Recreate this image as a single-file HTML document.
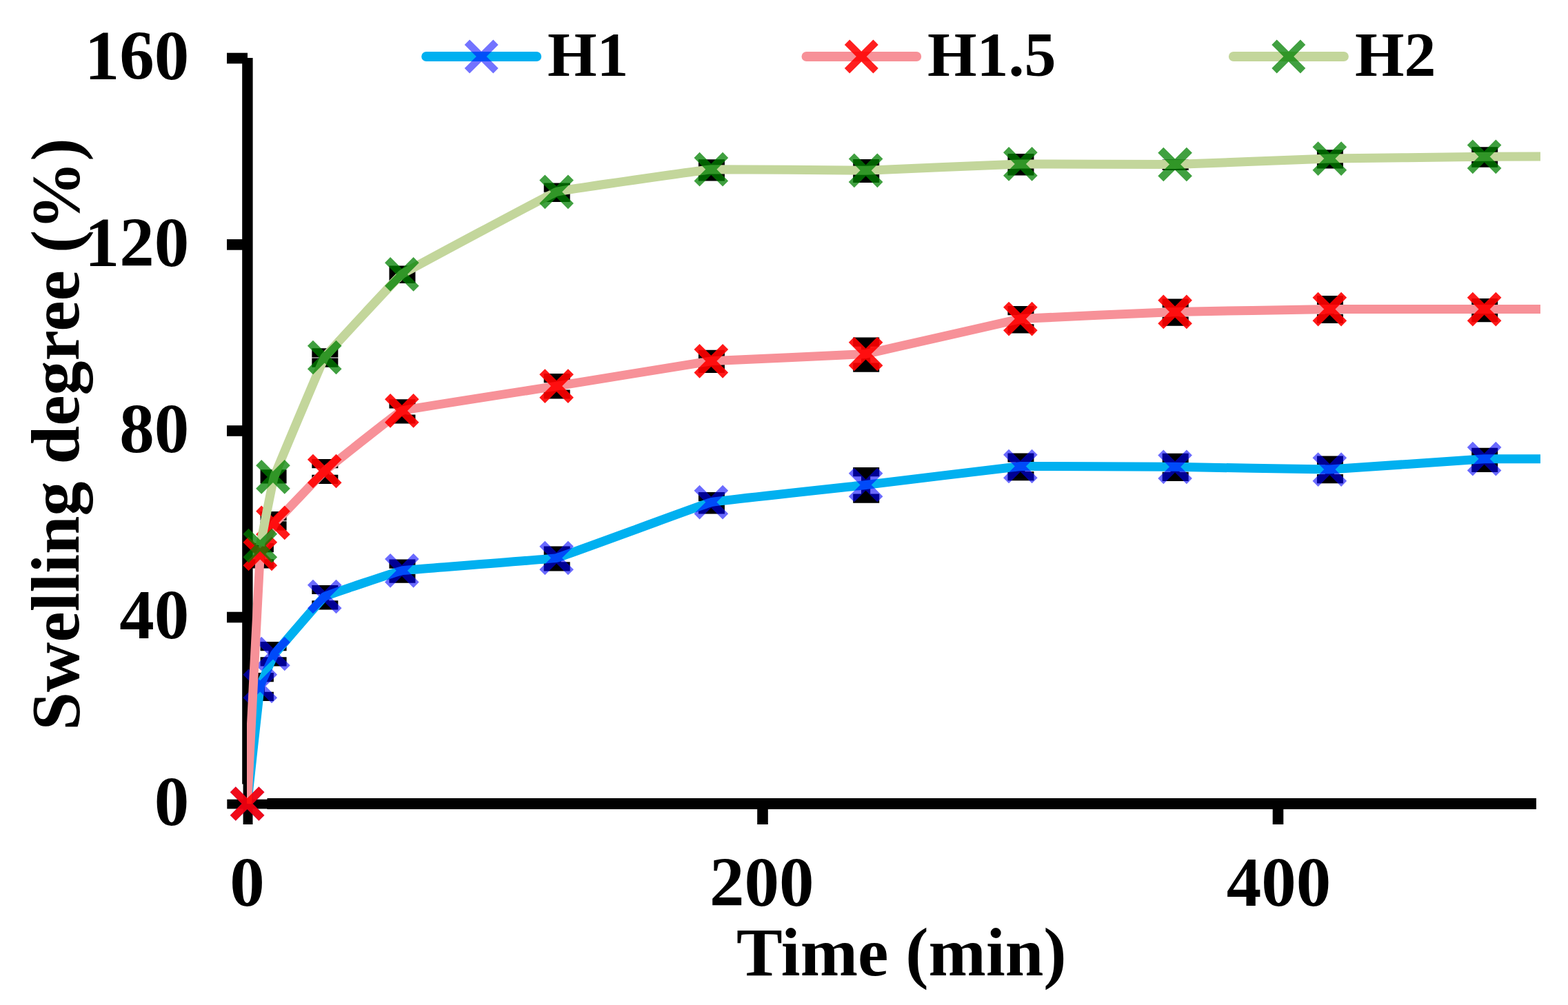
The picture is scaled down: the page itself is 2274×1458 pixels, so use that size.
<!DOCTYPE html>
<html lang="en">
<head>
<meta charset="utf-8">
<title>Swelling degree (%) vs Time (min)</title>
<style>
html,body{margin:0;padding:0;background:#fff;}
body{width:2274px;height:1458px;overflow:hidden;}
svg{display:block;}
text{font-family:"Liberation Serif","Times New Roman",serif;font-weight:bold;fill:#000;}
</style>
</head>
<body>
<svg width="2274" height="1458" viewBox="0 0 2274 1458">
<defs><clipPath id="plotclip"><rect x="358" y="0" width="1876.00" height="1300"/></clipPath></defs>
<rect width="2274" height="1458" fill="#fff"/>

<g id="axes" fill="#000">
<rect x="351.2" y="84" width="15.4" height="1053.5"/>
<rect x="352.6" y="1137" width="13.9" height="59"/>
<rect x="387.5" y="1158" width="1840.5" height="16"/>
<rect x="329.3" y="1159.7" width="58.7" height="13.7"/>
<rect x="329" y="76.70" width="30" height="15.6"/>
<rect x="329" y="347.10" width="30" height="15.6"/>
<rect x="329" y="617.20" width="30" height="15.6"/>
<rect x="329" y="887.70" width="30" height="15.6"/>
<rect x="1098.20" y="1166" width="15.6" height="30"/>
<rect x="1845.70" y="1166" width="15.6" height="30"/>
</g>
<g id="s-blue">
<path d="M370.69,976.00 h13.20 v41.00 h-13.20 z M358.89,976.00 h38.00 v13.20 h-38.00 z M358.89,1003.80 h38.00 v13.20 h-38.00 z M389.38,931.10 h13.20 v35.40 h-13.20 z M377.58,931.10 h38.00 v13.20 h-38.00 z M377.58,953.30 h38.00 v13.20 h-38.00 z M464.12,848.90 h13.20 v35.50 h-13.20 z M452.33,848.90 h38.00 v13.20 h-38.00 z M452.33,871.20 h38.00 v13.20 h-38.00 z M576.25,811.50 h13.20 v34.30 h-13.20 z M564.45,811.50 h38.00 v13.20 h-38.00 z M564.45,832.60 h38.00 v13.20 h-38.00 z M800.50,792.40 h13.20 v36.00 h-13.20 z M788.70,792.40 h38.00 v13.20 h-38.00 z M788.70,815.20 h38.00 v13.20 h-38.00 z M1024.75,714.00 h13.20 v31.50 h-13.20 z M1012.95,714.00 h38.00 v13.20 h-38.00 z M1012.95,732.30 h38.00 v13.20 h-38.00 z M1249.00,678.00 h13.20 v51.70 h-13.20 z M1237.20,678.00 h38.00 v13.20 h-38.00 z M1237.20,716.50 h38.00 v13.20 h-38.00 z M1473.25,657.40 h13.20 v39.80 h-13.20 z M1461.45,657.40 h38.00 v13.20 h-38.00 z M1461.45,684.00 h38.00 v13.20 h-38.00 z M1697.50,657.80 h13.20 v40.20 h-13.20 z M1685.70,657.80 h38.00 v13.20 h-38.00 z M1685.70,684.80 h38.00 v13.20 h-38.00 z M1921.75,661.40 h13.20 v39.80 h-13.20 z M1909.95,661.40 h38.00 v13.20 h-38.00 z M1909.95,688.00 h38.00 v13.20 h-38.00 z M2146.00,649.80 h13.20 v35.10 h-13.20 z M2134.20,649.80 h38.00 v13.20 h-38.00 z M2134.20,671.70 h38.00 v13.20 h-38.00 z" fill="#000"/>
<path d="M358.60,1166.00 C359.22,1160.31 376.62,999.02 377.29,995.40 C377.75,992.87 396.97,950.59 398.48,948.50 C400.03,946.34 467.65,867.51 470.73,865.50 C473.80,863.49 577.24,828.73 582.85,827.80 C588.46,826.87 799.62,811.15 807.10,809.50 C814.58,807.85 1023.87,730.37 1031.35,728.60 C1038.82,726.83 1248.12,704.37 1255.60,703.50 C1263.07,702.63 1472.38,676.94 1479.85,676.50 C1487.32,676.06 1696.62,677.22 1704.10,677.30 C1711.57,677.38 1920.88,681.29 1928.35,681.10 C1935.82,680.91 2145.12,665.95 2152.60,665.70 C2160.07,665.45 2369.38,666.18 2376.85,666.20" fill="none" stroke="#00B0F0" stroke-width="13.00" stroke-linejoin="round" clip-path="url(#plotclip)"/>
<path d="M337.80,1145.20 L379.40,1186.80 M337.80,1186.80 L379.40,1145.20" fill="none" stroke="#0000FF" stroke-opacity="0.58" stroke-width="11.40"/>
<path d="M356.49,974.60 L398.09,1016.20 M356.49,1016.20 L398.09,974.60" fill="none" stroke="#0000FF" stroke-opacity="0.58" stroke-width="11.40"/>
<path d="M375.18,927.70 L416.78,969.30 M375.18,969.30 L416.78,927.70" fill="none" stroke="#0000FF" stroke-opacity="0.58" stroke-width="11.40"/>
<path d="M449.93,844.70 L491.53,886.30 M449.93,886.30 L491.53,844.70" fill="none" stroke="#0000FF" stroke-opacity="0.58" stroke-width="11.40"/>
<path d="M562.05,807.00 L603.65,848.60 M562.05,848.60 L603.65,807.00" fill="none" stroke="#0000FF" stroke-opacity="0.58" stroke-width="11.40"/>
<path d="M786.30,788.70 L827.90,830.30 M786.30,830.30 L827.90,788.70" fill="none" stroke="#0000FF" stroke-opacity="0.58" stroke-width="11.40"/>
<path d="M1010.55,707.80 L1052.15,749.40 M1010.55,749.40 L1052.15,707.80" fill="none" stroke="#0000FF" stroke-opacity="0.58" stroke-width="11.40"/>
<path d="M1234.80,682.70 L1276.40,724.30 M1234.80,724.30 L1276.40,682.70" fill="none" stroke="#0000FF" stroke-opacity="0.58" stroke-width="11.40"/>
<path d="M1459.05,655.70 L1500.65,697.30 M1459.05,697.30 L1500.65,655.70" fill="none" stroke="#0000FF" stroke-opacity="0.58" stroke-width="11.40"/>
<path d="M1683.30,656.50 L1724.90,698.10 M1683.30,698.10 L1724.90,656.50" fill="none" stroke="#0000FF" stroke-opacity="0.58" stroke-width="11.40"/>
<path d="M1907.55,660.30 L1949.15,701.90 M1907.55,701.90 L1949.15,660.30" fill="none" stroke="#0000FF" stroke-opacity="0.58" stroke-width="11.40"/>
<path d="M2131.80,644.90 L2173.40,686.50 M2131.80,686.50 L2173.40,644.90" fill="none" stroke="#0000FF" stroke-opacity="0.58" stroke-width="11.40"/>
</g>
<g id="s-red">
<path d="M370.69,788.00 h13.20 v36.50 h-13.20 z M358.89,788.00 h38.00 v13.20 h-38.00 z M358.89,811.30 h38.00 v13.20 h-38.00 z M389.38,742.00 h13.20 v27.50 h-13.20 z M377.58,742.00 h38.00 v13.20 h-38.00 z M377.58,756.30 h38.00 v13.20 h-38.00 z M464.12,666.00 h13.20 v36.00 h-13.20 z M452.33,666.00 h38.00 v13.20 h-38.00 z M452.33,688.80 h38.00 v13.20 h-38.00 z M576.25,579.20 h13.20 v35.40 h-13.20 z M564.45,579.20 h38.00 v13.20 h-38.00 z M564.45,601.40 h38.00 v13.20 h-38.00 z M800.50,542.10 h13.20 v36.50 h-13.20 z M788.70,542.10 h38.00 v13.20 h-38.00 z M788.70,565.40 h38.00 v13.20 h-38.00 z M1024.75,507.80 h13.20 v33.10 h-13.20 z M1012.95,507.80 h38.00 v13.20 h-38.00 z M1012.95,527.70 h38.00 v13.20 h-38.00 z M1249.00,489.50 h13.20 v50.20 h-13.20 z M1237.20,489.50 h38.00 v13.20 h-38.00 z M1237.20,526.50 h38.00 v13.20 h-38.00 z M1473.25,444.00 h13.20 v39.50 h-13.20 z M1461.45,444.00 h38.00 v13.20 h-38.00 z M1461.45,470.30 h38.00 v13.20 h-38.00 z M1697.50,433.40 h13.20 v39.30 h-13.20 z M1685.70,433.40 h38.00 v13.20 h-38.00 z M1685.70,459.50 h38.00 v13.20 h-38.00 z M1921.75,429.10 h13.20 v39.80 h-13.20 z M1909.95,429.10 h38.00 v13.20 h-38.00 z M1909.95,455.70 h38.00 v13.20 h-38.00 z M2146.00,432.90 h13.20 v34.30 h-13.20 z M2134.20,432.90 h38.00 v13.20 h-38.00 z M2134.20,454.00 h38.00 v13.20 h-38.00 z" fill="#000"/>
<path d="M358.60,1166.00 C359.22,1153.92 376.61,810.29 377.29,803.50 C377.53,801.01 397.44,760.37 398.98,758.40 C400.53,756.40 467.66,686.21 470.73,683.50 C473.79,680.79 577.24,597.96 582.85,595.90 C588.46,593.84 799.62,561.30 807.10,560.10 C814.58,558.90 1023.87,524.58 1031.35,523.80 C1038.82,523.02 1248.12,514.52 1255.60,513.50 C1263.07,512.48 1472.38,463.62 1479.85,462.60 C1487.32,461.58 1696.62,452.63 1704.10,452.40 C1711.57,452.17 1920.88,448.66 1928.35,448.60 C1935.82,448.54 2145.12,448.61 2152.60,448.60 C2160.07,448.60 2369.38,448.31 2376.85,448.30" fill="none" stroke="#F79198" stroke-width="13.00" stroke-linejoin="round" clip-path="url(#plotclip)"/>
<path d="M337.80,1145.20 L379.40,1186.80 M337.80,1186.80 L379.40,1145.20" fill="none" stroke="#FF0000" stroke-opacity="0.9" stroke-width="11.40"/>
<path d="M356.49,782.70 L398.09,824.30 M356.49,824.30 L398.09,782.70" fill="none" stroke="#FF0000" stroke-opacity="0.9" stroke-width="11.40"/>
<path d="M375.18,737.60 L416.78,779.20 M375.18,779.20 L416.78,737.60" fill="none" stroke="#FF0000" stroke-opacity="0.9" stroke-width="11.40"/>
<path d="M449.93,662.70 L491.53,704.30 M449.93,704.30 L491.53,662.70" fill="none" stroke="#FF0000" stroke-opacity="0.9" stroke-width="11.40"/>
<path d="M562.05,575.10 L603.65,616.70 M562.05,616.70 L603.65,575.10" fill="none" stroke="#FF0000" stroke-opacity="0.9" stroke-width="11.40"/>
<path d="M786.30,539.30 L827.90,580.90 M786.30,580.90 L827.90,539.30" fill="none" stroke="#FF0000" stroke-opacity="0.9" stroke-width="11.40"/>
<path d="M1010.55,503.00 L1052.15,544.60 M1010.55,544.60 L1052.15,503.00" fill="none" stroke="#FF0000" stroke-opacity="0.9" stroke-width="11.40"/>
<path d="M1234.80,492.70 L1276.40,534.30 M1234.80,534.30 L1276.40,492.70" fill="none" stroke="#FF0000" stroke-opacity="0.9" stroke-width="11.40"/>
<path d="M1459.05,441.80 L1500.65,483.40 M1459.05,483.40 L1500.65,441.80" fill="none" stroke="#FF0000" stroke-opacity="0.9" stroke-width="11.40"/>
<path d="M1683.30,431.60 L1724.90,473.20 M1683.30,473.20 L1724.90,431.60" fill="none" stroke="#FF0000" stroke-opacity="0.9" stroke-width="11.40"/>
<path d="M1907.55,427.80 L1949.15,469.40 M1907.55,469.40 L1949.15,427.80" fill="none" stroke="#FF0000" stroke-opacity="0.9" stroke-width="11.40"/>
<path d="M2131.80,427.80 L2173.40,469.40 M2131.80,469.40 L2173.40,427.80" fill="none" stroke="#FF0000" stroke-opacity="0.9" stroke-width="11.40"/>
</g>
<g id="s-green">
<path d="M389.38,681.30 h13.20 v20.30 h-13.20 z M377.58,681.30 h38.00 v13.20 h-38.00 z M377.58,688.40 h38.00 v13.20 h-38.00 z M464.12,505.30 h13.20 v27.50 h-13.20 z M452.33,505.30 h38.00 v13.20 h-38.00 z M452.33,519.60 h38.00 v13.20 h-38.00 z M576.25,385.60 h13.20 v25.40 h-13.20 z M564.45,385.60 h38.00 v13.20 h-38.00 z M564.45,397.80 h38.00 v13.20 h-38.00 z M800.50,265.50 h13.20 v27.40 h-13.20 z M788.70,265.50 h38.00 v13.20 h-38.00 z M788.70,279.70 h38.00 v13.20 h-38.00 z M1024.75,231.20 h13.20 v31.40 h-13.20 z M1012.95,231.20 h38.00 v13.20 h-38.00 z M1012.95,249.40 h38.00 v13.20 h-38.00 z M1249.00,231.10 h13.20 v33.80 h-13.20 z M1237.20,231.10 h38.00 v13.20 h-38.00 z M1237.20,251.70 h38.00 v13.20 h-38.00 z M1473.25,222.90 h13.20 v31.70 h-13.20 z M1461.45,222.90 h38.00 v13.20 h-38.00 z M1461.45,241.40 h38.00 v13.20 h-38.00 z M1697.50,231.50 h13.20 v15.40 h-13.20 z M1685.70,231.50 h38.00 v13.20 h-38.00 z M1685.70,233.70 h38.00 v13.20 h-38.00 z M1921.75,217.20 h13.20 v27.40 h-13.20 z M1909.95,217.20 h38.00 v13.20 h-38.00 z M1909.95,231.40 h38.00 v13.20 h-38.00 z M2146.00,213.20 h13.20 v29.50 h-13.20 z M2134.20,213.20 h38.00 v13.20 h-38.00 z M2134.20,229.50 h38.00 v13.20 h-38.00 z" fill="#000"/>
<path d="M377.29,791.60 C377.96,788.28 395.92,696.45 397.48,691.90 C399.03,687.35 467.64,523.40 470.73,518.50 C473.81,513.60 577.24,401.90 582.85,397.90 C588.46,393.90 799.62,280.84 807.10,278.30 C814.58,275.76 1023.87,246.22 1031.35,245.70 C1038.82,245.18 1248.12,247.43 1255.60,247.30 C1263.07,247.17 1472.38,238.05 1479.85,237.90 C1487.32,237.75 1696.62,238.63 1704.10,238.50 C1711.57,238.37 1920.88,230.29 1928.35,230.10 C1935.82,229.91 2145.12,227.36 2152.60,227.30 C2160.07,227.24 2369.38,226.62 2376.85,226.60" fill="none" stroke="#C3D69B" stroke-width="13.00" stroke-linejoin="round" clip-path="url(#plotclip)"/>
<path d="M356.49,770.80 L398.09,812.40 M356.49,812.40 L398.09,770.80" fill="none" stroke="#008000" stroke-opacity="0.75" stroke-width="11.40"/>
<path d="M375.18,671.10 L416.78,712.70 M375.18,712.70 L416.78,671.10" fill="none" stroke="#008000" stroke-opacity="0.75" stroke-width="11.40"/>
<path d="M449.93,497.70 L491.53,539.30 M449.93,539.30 L491.53,497.70" fill="none" stroke="#008000" stroke-opacity="0.75" stroke-width="11.40"/>
<path d="M562.05,377.10 L603.65,418.70 M562.05,418.70 L603.65,377.10" fill="none" stroke="#008000" stroke-opacity="0.75" stroke-width="11.40"/>
<path d="M786.30,257.50 L827.90,299.10 M786.30,299.10 L827.90,257.50" fill="none" stroke="#008000" stroke-opacity="0.75" stroke-width="11.40"/>
<path d="M1010.55,224.90 L1052.15,266.50 M1010.55,266.50 L1052.15,224.90" fill="none" stroke="#008000" stroke-opacity="0.75" stroke-width="11.40"/>
<path d="M1234.80,226.50 L1276.40,268.10 M1234.80,268.10 L1276.40,226.50" fill="none" stroke="#008000" stroke-opacity="0.75" stroke-width="11.40"/>
<path d="M1459.05,217.10 L1500.65,258.70 M1459.05,258.70 L1500.65,217.10" fill="none" stroke="#008000" stroke-opacity="0.75" stroke-width="11.40"/>
<path d="M1683.30,217.70 L1724.90,259.30 M1683.30,259.30 L1724.90,217.70" fill="none" stroke="#008000" stroke-opacity="0.75" stroke-width="11.40"/>
<path d="M1907.55,209.30 L1949.15,250.90 M1907.55,250.90 L1949.15,209.30" fill="none" stroke="#008000" stroke-opacity="0.75" stroke-width="11.40"/>
<path d="M2131.80,206.50 L2173.40,248.10 M2131.80,248.10 L2173.40,206.50" fill="none" stroke="#008000" stroke-opacity="0.75" stroke-width="11.40"/>
</g>
<g id="legend">
<path d="M618.20,82.00 L778.20,82.00" stroke="#00B0F0" stroke-width="14" stroke-linecap="round" fill="none"/><path d="M677.40,61.20 L719.00,102.80 M677.40,102.80 L719.00,61.20" fill="none" stroke="#0000FF" stroke-opacity="0.55" stroke-width="10.40"/><text x="794.00" y="109.60" font-size="92.00">H1</text>
<path d="M1169.50,82.00 L1329.20,82.00" stroke="#F79198" stroke-width="14" stroke-linecap="round" fill="none"/><path d="M1228.50,61.20 L1270.10,102.80 M1228.50,102.80 L1270.10,61.20" fill="none" stroke="#FF0000" stroke-opacity="0.88" stroke-width="10.40"/><text x="1345.00" y="109.60" font-size="92.00">H1.5</text>
<path d="M1788.90,82.00 L1948.90,82.00" stroke="#C3D69B" stroke-width="14" stroke-linecap="round" fill="none"/><path d="M1848.00,61.20 L1889.60,102.80 M1848.00,102.80 L1889.60,61.20" fill="none" stroke="#008000" stroke-opacity="0.75" stroke-width="10.40"/><text x="1965.00" y="109.60" font-size="92.00">H2</text>
</g>
<g id="ylabels" font-size="101" text-anchor="end">
<text x="274.2" y="115.20">160</text>
<text x="274.2" y="385.60">120</text>
<text x="274.2" y="655.70">80</text>
<text x="274.2" y="926.20">40</text>
<text x="274.2" y="1196.70">0</text>
</g>
<g id="xlabels" font-size="101" text-anchor="middle">
<text x="358.50" y="1314">0</text>
<text x="1104.80" y="1314">200</text>
<text x="1854.50" y="1314">400</text>
</g>
<text id="xtitle" x="1307.3" y="1414.8" font-size="100" text-anchor="middle">Time (min)</text>
<text id="ytitle" transform="translate(114,630) rotate(-90)" font-size="100" text-anchor="middle">Swelling degree (%)</text>
</svg>
</body>
</html>
